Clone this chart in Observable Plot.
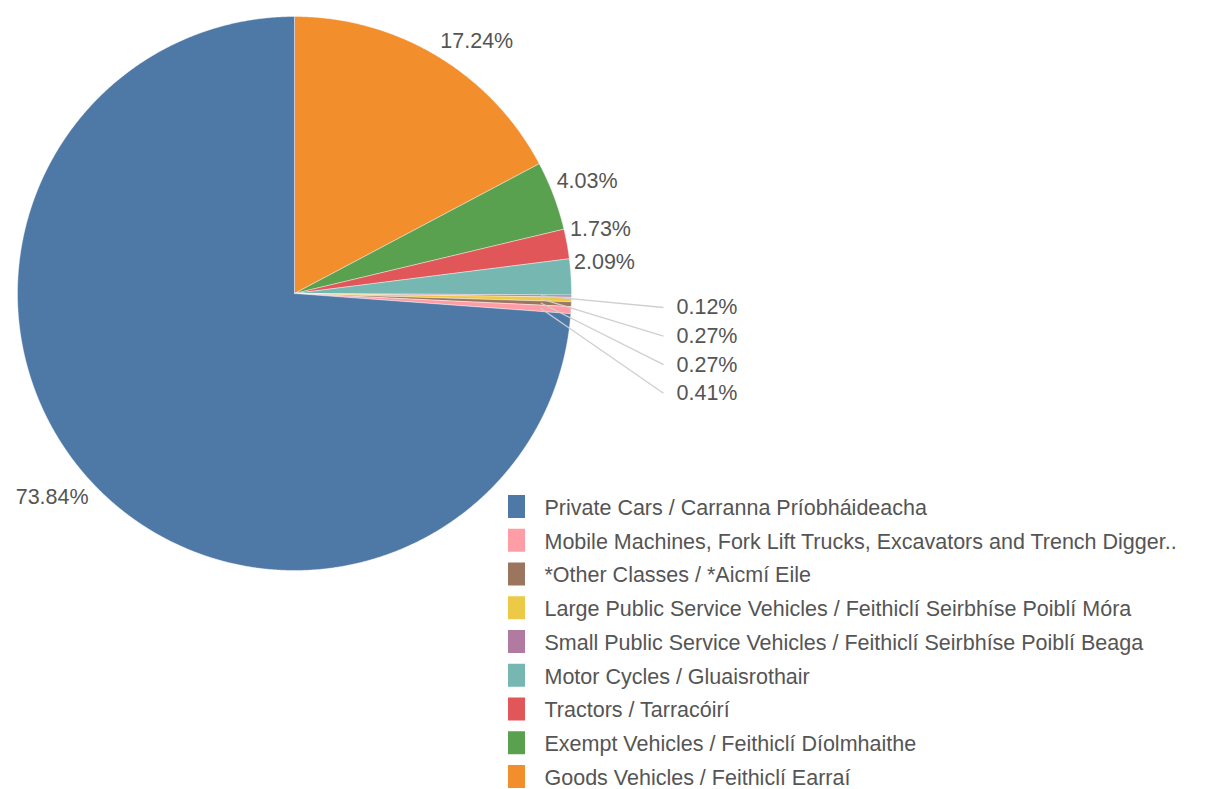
<!DOCTYPE html>
<html><head><meta charset="utf-8">
<script src="https://cdn.jsdelivr.net/npm/d3@7"></script>
<script src="https://cdn.jsdelivr.net/npm/@observablehq/plot@0.6"></script>
<style>body{margin:0;background:#fff;overflow:hidden;} #chart svg{display:block;}</style>
</head><body><div id="chart"></div>
<script>
// Slices in clockwise order starting at 12 o'clock
const categories = [
  "Goods Vehicles / Feithiclí Earraí",
  "Exempt Vehicles / Feithiclí Díolmhaithe",
  "Tractors / Tarracóirí",
  "Motor Cycles / Gluaisrothair",
  "Small Public Service Vehicles / Feithiclí Seirbhíse Poiblí Beaga",
  "Large Public Service Vehicles / Feithiclí Seirbhíse Poiblí Móra",
  "*Other Classes / *Aicmí Eile",
  "Mobile Machines, Fork Lift Trucks, Excavators and Trench Digger..",
  "Private Cars / Carranna Príobháideacha"
];
const shares = [17.24, 4.03, 1.73, 2.09, 0.12, 0.27, 0.27, 0.41, 73.84];
const colors = ["#f28e2b", "#59a14f", "#e15759", "#76b7b2", "#b07aa1", "#edc948", "#9c755f", "#ff9da7", "#4e79a7"];
const legendOrder = [
  "Private Cars / Carranna Príobháideacha",
  "Mobile Machines, Fork Lift Trucks, Excavators and Trench Digger..",
  "*Other Classes / *Aicmí Eile",
  "Large Public Service Vehicles / Feithiclí Seirbhíse Poiblí Móra",
  "Small Public Service Vehicles / Feithiclí Seirbhíse Poiblí Beaga",
  "Motor Cycles / Gluaisrothair",
  "Tractors / Tarracóirí",
  "Exempt Vehicles / Feithiclí Díolmhaithe",
  "Goods Vehicles / Feithiclí Earraí"
];

const W = 1220, H = 789;
const CX = 294, CY = 293, R = 277;

const arcs = d3.pie().sort(null).value(d => d)(shares);
const polar = (a, r) => ({x: r * Math.sin(a), y: -r * Math.cos(a)});

// slice polygons
const poly = [];
arcs.forEach((a, i) => {
  const cat = categories[i];
  poly.push({cat, x: 0, y: 0});
  const n = Math.max(2, Math.ceil((a.endAngle - a.startAngle) / (Math.PI / 720)));
  for (let k = 0; k <= n; k++) {
    const t = a.startAngle + (a.endAngle - a.startAngle) * k / n;
    poly.push({cat, ...polar(t, R)});
  }
  poly.push({cat, x: 0, y: 0});
});

const fmt = v => v.toFixed(2) + "%";
const bigLabels = [], smallLabels = [], leaders = [];
let si = 0;
arcs.forEach((a, i) => {
  const mid = (a.startAngle + a.endAngle) / 2;
  const p = polar(mid, R);
  if (shares[i] >= 1) {
    bigLabels.push({x: p.x, y: p.y, right: Math.sin(mid) >= 0, up: Math.cos(mid) >= 0, text: fmt(shares[i])});
  } else {
    const s = polar(mid, R * 0.89);
    const ex = R + 92, ey = 14 + si * 28.6;
    leaders.push({x1: s.x, y1: s.y, x2: ex, y2: ey});
    smallLabels.push({x: ex, y: ey, text: fmt(shares[i])});
    si++;
  }
});

const legendRows = legendOrder.map((c, i) => ({cat: c, row: i}));
const LX = 508 - CX, LY = 495 - CY, LS = 33.75;

const numFont = "'Liberation Sans', Arial, sans-serif";
const legFont = "'Liberation Sans', Arial, sans-serif";

const chart = Plot.plot({
  width: W, height: H,
  margin: 0,
  x: {domain: [-CX, W - CX], range: [0, W], axis: null},
  y: {domain: [-CY, H - CY], range: [0, H], axis: null},
  color: {domain: categories, range: colors},
  style: {fontFamily: numFont, background: "#fff"},
  marks: [
    Plot.line(poly, {x: "x", y: "y", z: "cat", fill: "cat", stroke: "#fff", strokeWidth: 0.4, curve: "linear-closed"}),
    Plot.link(leaders, {x1: "x1", y1: "y1", x2: "x2", y2: "y2", stroke: "#cfcfcf", strokeWidth: 1.3}),
    Plot.text(bigLabels.filter(d => d.right), {x: "x", y: d => d.y + (d.up ? -15 : 15), dx: 3, text: "text", textAnchor: "start", fontSize: 21.5, fill: "#555"}),
    Plot.text(bigLabels.filter(d => !d.right), {x: "x", y: d => d.y + (d.up ? -15 : 15), dx: -3, text: "text", textAnchor: "end", fontSize: 21.5, fill: "#555"}),
    Plot.text(smallLabels, {x: "x", y: "y", dx: 13, text: "text", textAnchor: "start", fontSize: 21.5, fill: "#555"}),
    Plot.rect(legendRows, {x1: () => LX, x2: () => LX + 17, y1: d => LY + d.row * LS, y2: d => LY + d.row * LS + 23, fill: "cat"}),
    Plot.text(legendRows, {x: () => LX + 36, y: d => LY + d.row * LS + 12.5, text: "cat", textAnchor: "start", fontSize: 21.5, fontFamily: legFont, fill: "#555"})
  ]
});
document.getElementById("chart").appendChild(chart);
</script>
</body></html>
